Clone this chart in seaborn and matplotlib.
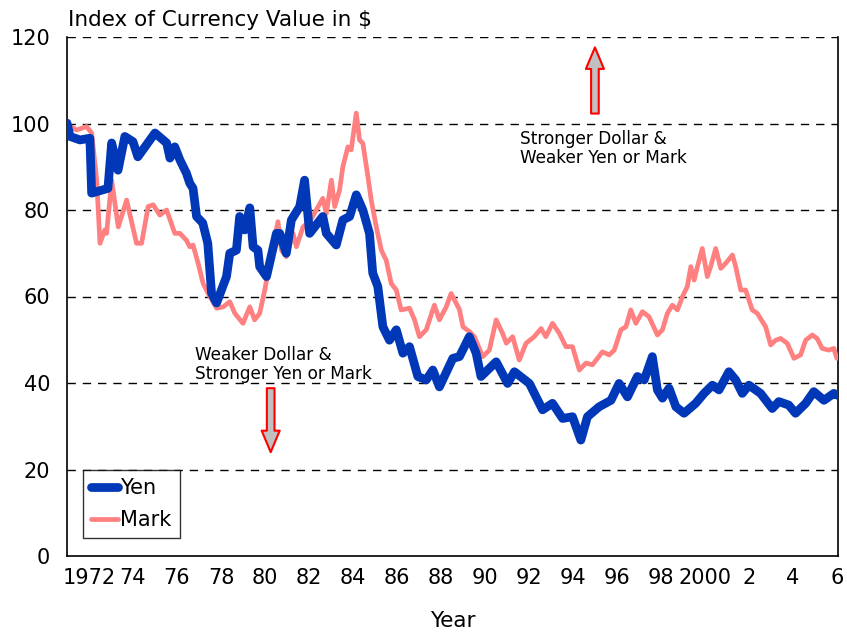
import matplotlib
matplotlib.use("Agg")
import matplotlib.pyplot as plt
import seaborn as sns
import pandas as pd

# ---------------- data ----------------
yen_years = [1971.0, 1971.14, 1971.59, 1972.04, 1972.12, 1972.86, 1973.03, 1973.32, 1973.63, 1974.0,
             1974.22, 1975.0, 1975.53, 1975.68, 1975.9, 1976.13, 1976.43, 1976.58, 1976.73, 1976.89,
             1977.17, 1977.4, 1977.57, 1977.8, 1978.25, 1978.4, 1978.7, 1978.85, 1979.08, 1979.31,
             1979.46, 1979.68, 1979.76, 1980.07, 1980.52, 1980.67, 1980.97, 1981.2, 1981.58, 1981.8,
             1982.03, 1982.63, 1982.79, 1983.24, 1983.54, 1983.85, 1984.15, 1984.45, 1984.75, 1984.9,
             1985.13, 1985.36, 1985.66, 1985.97, 1986.27, 1986.57, 1986.95, 1987.33, 1987.63, 1987.93,
             1988.54, 1988.84, 1989.29, 1989.6, 1989.82, 1990.51, 1991.03, 1991.34, 1992.02, 1992.62,
             1993.07, 1993.53, 1993.98, 1994.36, 1994.66, 1995.19, 1995.73, 1996.1, 1996.48, 1996.93,
             1997.24, 1997.61, 1997.84, 1998.07, 1998.37, 1998.68, 1999.05, 1999.58, 1999.96, 2000.34,
             2000.64, 2001.09, 2001.4, 2001.7, 2002.0, 2002.53, 2003.06, 2003.36, 2003.81, 2004.12,
             2004.58, 2004.95, 2005.41, 2005.86, 2006.0]
yen_values = [100.1, 97.0, 96.2, 96.6, 83.9, 85.0, 95.5, 89.2, 97.0, 95.8,
              92.3, 97.8, 95.5, 92.0, 94.6, 91.6, 88.5, 86.2, 85.0, 78.5,
              77.0, 72.3, 60.8, 58.5, 64.6, 70.0, 70.7, 78.5, 75.4, 80.5,
              71.5, 70.7, 66.9, 64.6, 74.6, 74.6, 70.0, 77.7, 80.8, 86.9,
              74.6, 78.5, 74.6, 71.9, 77.7, 78.5, 83.5, 80.0, 74.6, 65.4,
              62.3, 53.0, 49.9, 52.3, 46.9, 48.4, 41.5, 40.7, 43.0, 39.1,
              45.7, 46.1, 50.7, 46.9, 41.5, 44.9, 39.9, 42.6, 39.9, 33.8,
              35.3, 31.8, 32.2, 26.8, 32.2, 34.5, 36.0, 39.9, 36.8, 41.5,
              40.7, 46.1, 38.4, 36.5, 38.8, 34.5, 33.0, 35.3, 37.6, 39.5,
              38.4, 42.6, 40.7, 37.6, 39.5, 37.6, 34.1, 35.7, 34.9, 33.0,
              35.3, 38.0, 36.0, 37.6, 37.2]

mark_years = [1971.0, 1971.44, 1971.89, 1972.12, 1972.35, 1972.5, 1972.72, 1972.8, 1973.03, 1973.33,
              1973.71, 1974.16, 1974.39, 1974.69, 1974.92, 1975.22, 1975.53, 1975.9, 1976.13, 1976.43,
              1976.58, 1976.73, 1976.96, 1977.19, 1977.49, 1977.8, 1978.1, 1978.4, 1978.63, 1979.0,
              1979.31, 1979.53, 1979.76, 1979.99, 1980.21, 1980.59, 1980.75, 1980.97, 1981.27, 1981.43,
              1981.73, 1982.03, 1982.33, 1982.63, 1982.79, 1983.02, 1983.17, 1983.39, 1983.54, 1983.77,
              1983.92, 1984.15, 1984.3, 1984.45, 1984.68, 1984.83, 1985.06, 1985.29, 1985.51, 1985.74,
              1985.97, 1986.19, 1986.57, 1986.8, 1987.02, 1987.33, 1987.7, 1987.93, 1988.24, 1988.46,
              1988.84, 1989.0, 1989.29, 1989.52, 1989.9, 1990.2, 1990.51, 1990.8, 1990.97, 1991.26,
              1991.56, 1991.87, 1992.24, 1992.55, 1992.77, 1993.07, 1993.38, 1993.68, 1993.98, 1994.29,
              1994.59, 1994.89, 1995.34, 1995.65, 1995.88, 1996.18, 1996.41, 1996.63, 1996.86, 1997.16,
              1997.46, 1997.84, 1998.07, 1998.29, 1998.52, 1998.75, 1998.98, 1999.2, 1999.36, 1999.51,
              1999.66, 1999.88, 2000.11, 2000.26, 2000.49, 2000.72, 2000.95, 2001.25, 2001.4, 2001.63,
              2001.85, 2002.15, 2002.38, 2002.61, 2002.76, 2002.99, 2003.22, 2003.44, 2003.74, 2004.05,
              2004.35, 2004.58, 2004.88, 2005.1, 2005.33, 2005.63, 2005.86, 2006.0]
mark_values = [99.7, 98.5, 99.3, 97.8, 86.9, 72.3, 75.4, 74.6, 86.9, 76.1,
               82.3, 72.3, 72.3, 80.8, 81.2, 78.8, 80.0, 74.6, 74.6, 73.0,
               71.5, 71.9, 67.7, 63.0, 60.0, 57.3, 57.6, 58.8, 56.1, 53.8,
               57.6, 54.6, 56.1, 61.5, 67.7, 77.3, 70.7, 69.2, 74.6, 71.5,
               76.1, 77.3, 80.0, 82.7, 79.2, 86.9, 80.8, 84.6, 90.0, 94.6,
               93.9, 102.4, 96.2, 95.4, 87.7, 82.3, 76.1, 70.7, 68.4, 63.0,
               61.5, 56.9, 57.3, 54.6, 50.7, 52.3, 58.0, 54.6, 57.6, 60.7,
               57.0, 53.0, 51.9, 50.7, 46.1, 47.6, 54.6, 51.5, 49.2, 50.7,
               45.3, 49.2, 50.7, 52.6, 50.7, 53.8, 51.5, 48.4, 48.4, 43.0,
               44.6, 44.2, 47.2, 46.5, 47.6, 52.3, 53.0, 56.9, 53.8, 56.5,
               55.3, 51.1, 52.3, 56.1, 58.0, 56.9, 60.0, 62.3, 66.9, 63.8,
               66.9, 71.1, 64.6, 66.9, 71.1, 66.5, 67.7, 69.6, 66.9, 61.5,
               61.5, 56.9, 56.1, 54.2, 53.0, 48.8, 49.9, 50.3, 49.2, 45.7,
               46.5, 49.9, 51.1, 50.3, 48.0, 47.6, 48.0, 45.7]

tick_years = [1972, 1974, 1976, 1978, 1980, 1982, 1984, 1986, 1988, 1990,
              1992, 1994, 1996, 1998, 2000, 2002, 2004, 2006]
tick_labels = ["1972", "74", "76", "78", "80", "82", "84", "86", "88", "90",
               "92", "94", "96", "98", "2000", "2", "4", "6"]
y_ticks = [0, 20, 40, 60, 80, 100, 120]

yen_df = pd.DataFrame({"Year": yen_years, "Value": yen_values})
mark_df = pd.DataFrame({"Year": mark_years, "Value": mark_values})

# ---------------- style ----------------
sns.set_style("white")
plt.rcParams["font.family"] = ["DejaVu Sans"]
plt.rcParams["text.color"] = "black"
plt.rcParams["axes.labelcolor"] = "black"

fig = plt.figure(figsize=(8.47, 6.33), dpi=100)
W, H = 847, 633
ax = fig.add_axes([67 / W, (H - 556) / H, (838 - 67) / W, (556 - 37) / H])

YEN_C = "#0038b8"
MARK_C = "#ff8080"

sns.lineplot(data=mark_df, x="Year", y="Value", ax=ax, color=MARK_C,
             linewidth=3.4, label="Mark", zorder=3, estimator=None, sort=False)
sns.lineplot(data=yen_df, x="Year", y="Value", ax=ax, color=YEN_C,
             linewidth=6.3, label="Yen", zorder=4, estimator=None, sort=False)
for ln in ax.get_lines():
    ln.set_solid_capstyle("round")
    ln.set_solid_joinstyle("round")

ax.set_xlim(1971.0, 2006.05)
ax.set_ylim(0, 120)
ax.set_xticks(tick_years)
ax.set_xticklabels(tick_labels)
ax.set_yticks(y_ticks)
ax.tick_params(axis="both", length=0, labelsize=15, colors="black")
ax.tick_params(axis="y", pad=12)
ax.tick_params(axis="x", pad=9)

# dashed gridlines
for v in y_ticks[1:]:
    ax.axhline(v, color="black", linewidth=1.0, linestyle=(0, (6, 5)), zorder=1)

for side in ["left", "bottom", "right"]:
    ax.spines[side].set_color("black")
    ax.spines[side].set_linewidth(1.2)
ax.spines["top"].set_visible(False)

ax.set_xlabel("Year", fontsize=15.5, labelpad=16, color="black")
ax.set_ylabel("")

fig.text(68 / W, 1 - 20 / H, "Index of Currency Value in $", fontsize=15.5,
         ha="left", va="center", color="black")

# legend (Yen first)
handles, labels = ax.get_legend_handles_labels()
order = [labels.index("Yen"), labels.index("Mark")]
leg = ax.legend([handles[i] for i in order], [labels[i] for i in order],
                loc="upper left", bbox_to_anchor=(16 / 771, 86 / 519),
                borderaxespad=0, frameon=True, fancybox=False, fontsize=15,
                handlelength=1.3, handletextpad=0.1, borderpad=0.4,
                labelspacing=0.55)
leg.get_frame().set_edgecolor("black")
leg.get_frame().set_linewidth(1.0)
for t in leg.get_texts():
    t.set_color("black")

# annotations
ax.text(1991.6, 98.5, "Stronger Dollar &\nWeaker Yen or Mark", fontsize=12.2,
        ha="left", va="top", linespacing=1.05, zorder=5, color="black")
ax.text(1976.81, 48.5, "Weaker Dollar &\nStronger Yen or Mark", fontsize=12.2,
        ha="left", va="top", linespacing=1.05, zorder=5, color="black")

arrow_style = "simple,head_length=15.5,head_width=13.0,tail_width=5.5"
ax.annotate("", xy=(1995.0, 117.6), xytext=(1995.0, 102.3),
            arrowprops=dict(arrowstyle=arrow_style, mutation_scale=1,
                            fc="#c0c0c0", ec="red", lw=1.5, shrinkA=0, shrinkB=0),
            zorder=6)
ax.annotate("", xy=(1980.26, 24.0), xytext=(1980.26, 38.8),
            arrowprops=dict(arrowstyle=arrow_style, mutation_scale=1,
                            fc="#c0c0c0", ec="red", lw=1.5, shrinkA=0, shrinkB=0),
            zorder=6)

fig.savefig("out.png", dpi=100)
